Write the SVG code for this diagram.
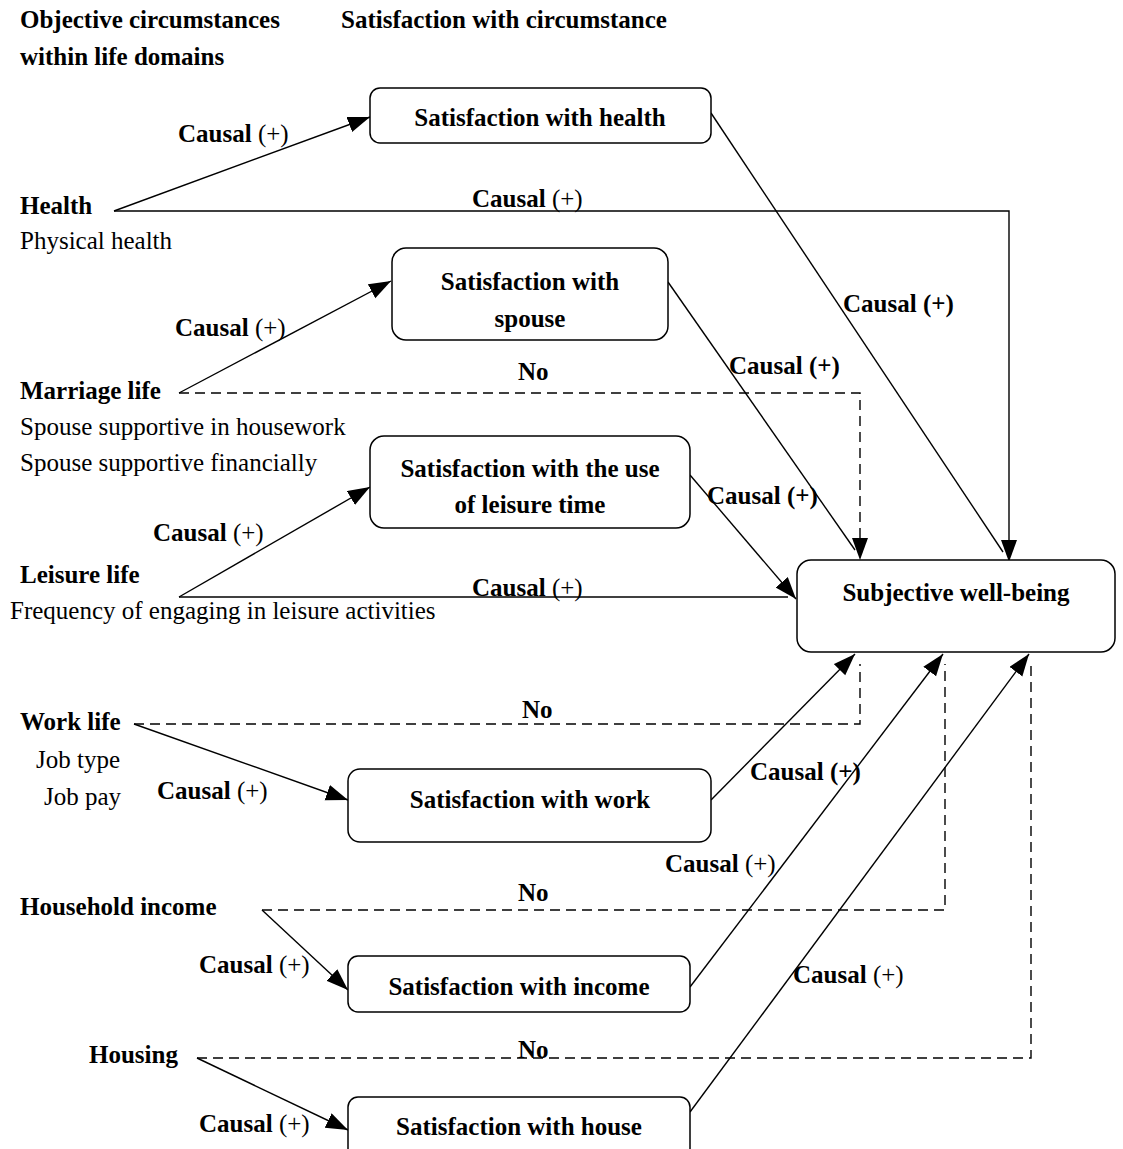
<svg xmlns="http://www.w3.org/2000/svg" width="1123" height="1149" viewBox="0 0 1123 1149">
<style>
text{font-family:"Liberation Serif","Times New Roman",serif;font-size:25px;fill:#000}
.b{font-weight:bold}
.n{font-weight:normal}
.c{text-anchor:middle;font-weight:bold}
.box{fill:#fff;stroke:#000;stroke-width:1.5}
.ln{fill:none;stroke:#000;stroke-width:1.4}
.d{stroke-dasharray:10 6}
</style>
<defs>
<marker id="ah" markerUnits="userSpaceOnUse" markerWidth="24" markerHeight="18" refX="22" refY="8" orient="auto">
<path d="M0,0 L22,8 L0,16 z" fill="#000"/>
</marker>
</defs>
<rect width="1123" height="1149" fill="#fff"/>
<g id="headers">
<text class="b" x="20" y="28">Objective circumstances</text>
<text class="b" x="20" y="65">within life domains</text>
<text class="b" x="341" y="28">Satisfaction with circumstance</text>
</g>
<g id="connectors">
<path class="ln" d="M114,211 L370,117" marker-end="url(#ah)"/>
<path class="ln" d="M114,211 H1009 V562" marker-end="url(#ah)"/>
<path class="ln" d="M711,113 L1003,552"/>
<path class="ln" d="M179,393 L391,281" marker-end="url(#ah)"/>
<path class="ln d" d="M179,393 H860 V560" marker-end="url(#ah)"/>
<path class="ln" d="M668,282 L855,550"/>
<path class="ln" d="M179,597 L370,487" marker-end="url(#ah)"/>
<path class="ln" d="M179,597 H788"/>
<path class="ln" d="M690,475 L796,599" marker-end="url(#ah)"/>
<path class="ln d" d="M134,724 H860 V664"/>
<path class="ln" d="M134,724 L348,800" marker-end="url(#ah)"/>
<path class="ln" d="M711,800 L855,654" marker-end="url(#ah)"/>
<path class="ln d" d="M262,910 H945 V664"/>
<path class="ln" d="M262,910 L348,990" marker-end="url(#ah)"/>
<path class="ln" d="M690,987 L943,654" marker-end="url(#ah)"/>
<path class="ln d" d="M197,1058 H1031 V664"/>
<path class="ln" d="M197,1058 L348,1130" marker-end="url(#ah)"/>
<path class="ln" d="M690,1112 L1029,654" marker-end="url(#ah)"/>
</g>
<g id="connector-labels">
<text class="b" x="178" y="142">Causal <tspan class="n">(+)</tspan></text>
<text class="b" x="472" y="207">Causal <tspan class="n">(+)</tspan></text>
<text class="b" x="843" y="312">Causal (+)</text>
<text class="b" x="175" y="336">Causal <tspan class="n">(+)</tspan></text>
<text class="b" x="518" y="380">No</text>
<text class="b" x="729" y="374">Causal (+)</text>
<text class="b" x="153" y="541">Causal <tspan class="n">(+)</tspan></text>
<text class="b" x="707" y="504">Causal (+)</text>
<text class="b" x="472" y="596">Causal <tspan class="n">(+)</tspan></text>
<text class="b" x="522" y="718">No</text>
<text class="b" x="157" y="799">Causal <tspan class="n">(+)</tspan></text>
<text class="b" x="750" y="780">Causal (+)</text>
<text class="b" x="518" y="901">No</text>
<text class="b" x="665" y="872">Causal <tspan class="n">(+)</tspan></text>
<text class="b" x="199" y="973">Causal <tspan class="n">(+)</tspan></text>
<text class="b" x="793" y="983">Causal <tspan class="n">(+)</tspan></text>
<text class="b" x="518" y="1058">No</text>
<text class="b" x="199" y="1132">Causal <tspan class="n">(+)</tspan></text>
</g>
<g id="health">
<text class="b" x="20" y="214">Health</text>
<text x="20" y="249">Physical health</text>
</g>
<g id="marriage">
<text class="b" x="20" y="399">Marriage life</text>
<text x="20" y="435">Spouse supportive in housework</text>
<text x="20" y="471">Spouse supportive financially</text>
</g>
<g id="leisure">
<text class="b" x="20" y="583">Leisure life</text>
<text x="10" y="619">Frequency of engaging in leisure activities</text>
</g>
<g id="work">
<text class="b" x="20" y="730">Work life</text>
<text x="36" y="768">Job type</text>
<text x="44" y="805">Job pay</text>
</g>
<g id="income"><text class="b" x="20" y="915">Household income</text></g>
<g id="housing"><text class="b" x="89" y="1063">Housing</text></g>
<g id="sat-health">
<rect class="box" x="370" y="88" width="341" height="55" rx="10"/>
<text class="c" x="540" y="126">Satisfaction with health</text>
</g>
<g id="sat-spouse">
<rect class="box" x="392" y="248" width="276" height="92" rx="14"/>
<text class="c" x="530" y="290">Satisfaction with</text>
<text class="c" x="530" y="327">spouse</text>
</g>
<g id="sat-leisure">
<rect class="box" x="370" y="436" width="320" height="92" rx="14"/>
<text class="c" x="530" y="477">Satisfaction with the use</text>
<text class="c" x="530" y="513">of leisure time</text>
</g>
<g id="swb">
<rect class="box" x="797" y="560" width="318" height="92" rx="14"/>
<text class="c" x="956" y="601">Subjective well-being</text>
</g>
<g id="sat-work">
<rect class="box" x="348" y="769" width="363" height="73" rx="12"/>
<text class="c" x="530" y="808">Satisfaction with work</text>
</g>
<g id="sat-income">
<rect class="box" x="348" y="956" width="342" height="56" rx="10"/>
<text class="c" x="519" y="995">Satisfaction with income</text>
</g>
<g id="sat-house">
<rect class="box" x="348" y="1097" width="342" height="70" rx="10"/>
<text class="c" x="519" y="1135">Satisfaction with house</text>
</g>
</svg>
